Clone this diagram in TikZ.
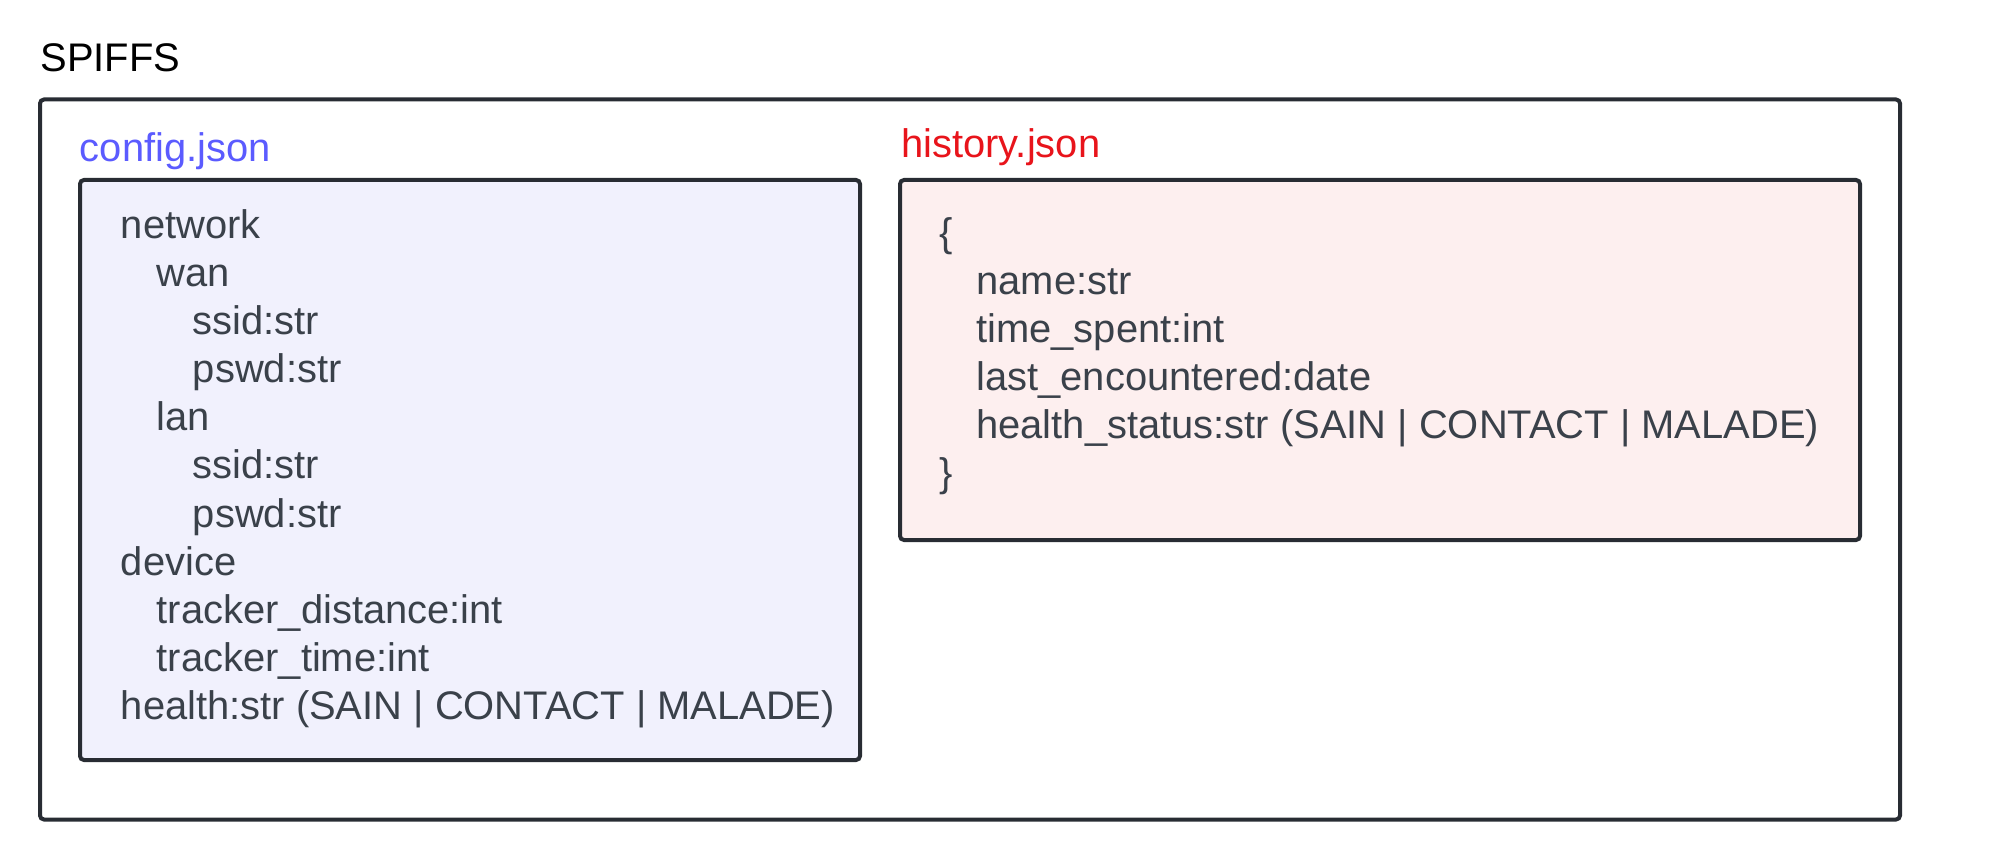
\documentclass[tikz,border=0pt]{standalone}
\usepackage{fontspec}
\setmainfont{Liberation Sans}
\usepackage{tikz}
\usetikzlibrary{positioning}

\definecolor{txtgray}{HTML}{3A414A}
\definecolor{edgegray}{HTML}{282C33}
\definecolor{cfgfill}{HTML}{F1F1FD}
\definecolor{histfill}{HTML}{FDEFEF}
\definecolor{cfgblue}{HTML}{5B5BFF}
\definecolor{histred}{HTML}{E8141B}

\tikzset{
	filebox/.style={draw=edgegray, line width=2pt, rounded corners=2pt, inner sep=0pt, outer sep=0pt, anchor=north west},
	lbl/.style={font=\fontsize{19.95}{24}\selectfont, inner sep=0pt, anchor=base west},
	entry/.style={lbl, text=txtgray}
}

\begin{document}
\begin{tikzpicture}[x=0.5pt,y=-0.5pt]
	\useasboundingbox (0,0) rectangle (2000,860);
	\node[lbl] (spiffslbl) at (40,72) {SPIFFS};
	\node[filebox, minimum width=930pt, minimum height=360pt] (spiffs) at (40,99.5) {};
	% config.json
	\node[lbl, text=cfgblue] (cfglbl) at (79.5,162) {config.json};
	\node[filebox, fill=cfgfill, minimum width=390pt, minimum height=290pt] (cfg) at (80,180) {};
	\foreach \lvl/\txt [count=\i from 0] in {0/network, 1/wan, 2/ssid:str, 2/pswd:str, 1/lan, 2/ssid:str, 2/pswd:str, 0/device, 1/tracker\_distance:int, 1/tracker\_time:int, 0/health:str (SAIN | CONTACT | MALADE)}
		\node[entry] (cfg\i) at ({120.5+36*\lvl},{239+48*\i}) {\txt};
	% history.json
	\node[lbl, text=histred] (histlbl) at (901,158) {history.json};
	\node[filebox, fill=histfill, minimum width=480pt, minimum height=180pt] (hist) at (900,180) {};
	\foreach \lvl/\txt [count=\i from 0] in {0/\{, 1/name:str, 1/time\_spent:int, 1/last\_encountered:date, 1/health\_status:str (SAIN | CONTACT | MALADE), 0/\}}
		\node[entry] (hist\i) at ({939+37*\lvl},{247+48*\i}) {\txt};
\end{tikzpicture}
\end{document}
